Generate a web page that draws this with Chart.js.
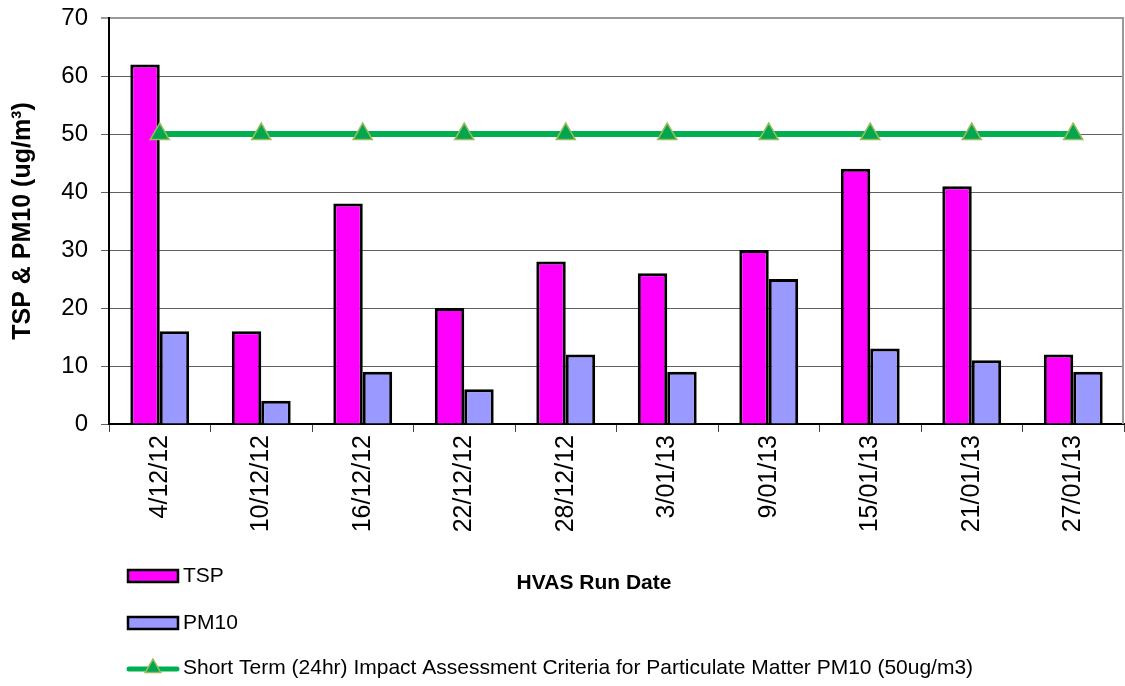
<!DOCTYPE html>
<html>
<head>
<meta charset="utf-8">
<script src="https://cdn.jsdelivr.net/npm/chart.js@4.4.0/dist/chart.umd.min.js"></script>
<style>
  html, body { margin: 0; padding: 0; background: #fff; }
  #wrap { position: relative; width: 1125px; height: 686px; }
</style>
</head>
<body>
<div id="wrap"><canvas id="c" width="1125" height="686"></canvas></div>
<script>
const categories = ['4/12/12','10/12/12','16/12/12','22/12/12','28/12/12','3/01/13','9/01/13','15/01/13','21/01/13','27/01/13'];
const tspValues = [62, 16, 38, 20, 28, 26, 30, 44, 41, 12];
const pm10Values = [16, 4, 9, 6, 12, 9, 25, 13, 11, 9];
const criteriaValues = [50, 50, 50, 50, 50, 50, 50, 50, 50, 50];
const yTickValues = [0, 10, 20, 30, 40, 50, 60, 70];
const seriesNames = ['TSP', 'PM10', 'Short Term (24hr) Impact Assessment Criteria for Particulate Matter PM10 (50ug/m3)'];
const yAxisTitle = 'TSP & PM10 (ug/m\u00B3)';
const xAxisTitle = 'HVAS Run Date';

const FONT = "'Liberation Sans', Arial, sans-serif";
const TSP_COLOR = '#FF00FF';
const PM10_COLOR = '#9999FF';
const LINE_COLOR = '#00B050';
const TRI_FILL = '#00A650';
const TRI_BORDER = '#9BBB59';

const extras = {
  id: 'extras',
  afterDraw(chart) {
    const ctx = chart.ctx;
    const ca = chart.chartArea;
    ctx.save();
    // right border of plot area
    ctx.strokeStyle = '#999';
    ctx.lineWidth = 2;
    ctx.beginPath();
    ctx.moveTo(ca.right - 1, ca.top);
    ctx.lineTo(ca.right - 1, ca.bottom);
    ctx.stroke();

    // x axis title
    ctx.fillStyle = '#000';
    ctx.font = 'bold 21px ' + FONT;
    ctx.textAlign = 'center';
    ctx.textBaseline = 'middle';
    ctx.fillText(xAxisTitle, 594, 583);

    // legend
    ctx.textAlign = 'left';
    ctx.font = '21px ' + FONT;
    const boxes = [[seriesNames[0], TSP_COLOR, 576], [seriesNames[1], PM10_COLOR, 623]];
    boxes.forEach(([name, col, cy]) => {
      ctx.fillStyle = col;
      ctx.fillRect(128, cy - 6, 50, 12);
      ctx.strokeStyle = '#000';
      ctx.lineWidth = 2.5;
      ctx.strokeRect(128, cy - 6, 50, 12);
      ctx.fillStyle = '#000';
      ctx.fillText(name, 183, cy);
    });
    const ly = 669;
    ctx.strokeStyle = LINE_COLOR;
    ctx.lineWidth = 5;
    ctx.lineCap = 'round';
    ctx.beginPath();
    ctx.moveTo(129, ly);
    ctx.lineTo(177, ly);
    ctx.stroke();
    const r = 9, tx = 153, ty = ly - 1;
    ctx.beginPath();
    ctx.moveTo(tx, ty - r);
    ctx.lineTo(tx + r * Math.sin(2 * Math.PI / 3), ty - r * Math.cos(2 * Math.PI / 3));
    ctx.lineTo(tx + r * Math.sin(4 * Math.PI / 3), ty - r * Math.cos(4 * Math.PI / 3));
    ctx.closePath();
    ctx.fillStyle = TRI_FILL;
    ctx.fill();
    ctx.strokeStyle = TRI_BORDER;
    ctx.lineWidth = 1.5;
    ctx.stroke();
    ctx.fillStyle = '#000';
    ctx.fillText(seriesNames[2], 183, 668);
    ctx.restore();
  }
};

new Chart(document.getElementById('c'), {
  type: 'bar',
  data: {
    labels: categories,
    datasets: [
      {
        type: 'line',
        label: seriesNames[2],
        data: criteriaValues,
        borderColor: LINE_COLOR,
        borderWidth: 6,
        pointStyle: 'triangle',
        pointRadius: 11,
        pointBackgroundColor: TRI_FILL,
        pointBorderColor: TRI_BORDER,
        pointBorderWidth: 1.5,
        fill: false,
        order: -1
      },
      {
        label: seriesNames[0],
        data: tspValues,
        backgroundColor: TSP_COLOR,
        borderColor: '#000',
        borderWidth: 3,
        barPercentage: 1,
        categoryPercentage: 0.58
      },
      {
        label: seriesNames[1],
        data: pm10Values,
        backgroundColor: PM10_COLOR,
        borderColor: '#000',
        borderWidth: 3,
        barPercentage: 1,
        categoryPercentage: 0.58
      }
    ]
  },
  options: {
    responsive: false,
    animation: false,
    devicePixelRatio: 1,
    layout: { autoPadding: false, padding: { top: 18, right: 1, bottom: 0, left: 0 } },
    plugins: {
      legend: { display: false },
      tooltip: { enabled: false },
      title: { display: false }
    },
    scales: {
      x: {
        offset: true,
        grid: {
          offset: true,
          drawOnChartArea: false,
          drawTicks: true,
          tickLength: 8,
          color: '#444',
          lineWidth: 1
        },
        border: { display: true, color: '#000', width: 2 },
        ticks: {
          autoSkip: false,
          maxRotation: 90,
          minRotation: 90,
          padding: 3,
          color: '#000',
          font: { family: FONT, size: 25 }
        },
        afterFit(scale) {
          scale.height = 686 - 424;
          scale.paddingLeft = 0;
          scale.paddingRight = 0;
        }
      },
      y: {
        min: 0,
        max: 70,
        afterBuildTicks(scale) {
          scale.ticks = yTickValues.map(v => ({ value: v }));
        },
        grid: {
          color: (c) => (c.tick && c.tick.value === 70) ? '#999' : '#606060',
          lineWidth: (c) => (c.tick && c.tick.value === 70) ? 2 : 1,
          tickLength: 8,
          drawTicks: true
        },
        border: { display: true, color: '#000', width: 2 },
        ticks: {
          padding: 13,
          color: '#000',
          font: { family: FONT, size: 24 }
        },
        title: {
          display: true,
          text: yAxisTitle,
          color: '#000',
          font: { family: FONT, size: 25, weight: 'bold' },
          padding: { top: 8, bottom: 0 }
        },
        afterFit(scale) {
          scale.width = 109;
          scale.paddingTop = 0;
          scale.paddingBottom = 0;
        }
      }
    }
  },
  plugins: [extras]
});
</script>
</body>
</html>
